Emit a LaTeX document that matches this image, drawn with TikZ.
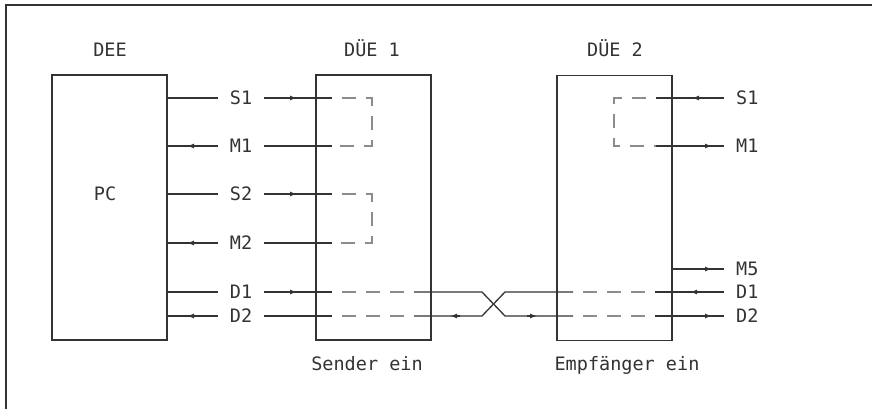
\documentclass[tikz,border=0pt]{standalone}
\usepackage{fontspec}
\newfontfamily\monofnt{DejaVu Sans Mono}
\usetikzlibrary{arrows.meta}
\definecolor{ink}{HTML}{333333}
\definecolor{dashc}{HTML}{8C8C8C}
\begin{document}
\begin{tikzpicture}[x=1pt,y=-1pt,
  wire/.style={draw=ink,line width=1.3pt},
  dwire/.style={draw=dashc,line width=1.3pt,dash pattern=on 14pt off 10pt,dash phase=14pt},
  box/.style={draw=ink,line width=1.4pt,minimum width=115pt,minimum height=265pt,inner sep=0pt},
  lbl/.style={font=\monofnt\fontsize{18.5}{20}\selectfont,text=ink,inner xsep=12pt,inner ysep=2pt},
  tip/.style={draw=ink,line width=1.3pt,-{Latex[length=7pt,width=5pt]}}]
\useasboundingbox (0,0) rectangle (872,409);
% frame
\coordinate (fA) at (6,409);
\coordinate (fB) at (6,5);
\coordinate (fC) at (872,5);
\draw[ink,line width=1.8pt] (fA) -- (fB) -- (fC);
% boxes
\node[box] (pc) at (109.5,207.5) {};
\node[box] (due1) at (373.5,207.5) {};
\node[box] (due2) at (614.5,208) {};
% titles
\node[lbl,anchor=base] (tDEE) at (110,57) {DEE};
\node[lbl,anchor=base] (tDUE1) at (372,57) {DÜE 1};
\node[lbl,anchor=base] (tDUE2) at (615,57) {DÜE 2};
\node[lbl] (tPC) at (105,194) {PC};
\node[lbl,anchor=base] (tSend) at (367,370) {Sender ein};
\node[lbl,anchor=base] (tEmpf) at (627,370) {Empfänger ein};
% left side rows
\foreach \n/\y in {S1/98,M1/146,S2/194,M2/243,D1/292,D2/316} {
  \node[lbl] (l\n) at (241,\y) {\n};
  \coordinate (i\n) at (332,\y);
  \draw[wire] (pc.east |- l\n) -- (l\n.west);
  \draw[wire] (l\n.east) -- (i\n);
}
\foreach \y in {98,194,292} \draw[tip] (285,\y) -- (297,\y);
\foreach \y in {146,243,316} \draw[tip] (199,\y) -- (187,\y);
% inner dashed DUE1
\coordinate (bA) at (372,98);
\coordinate (bB) at (372,146);
\coordinate (bC) at (372,194);
\coordinate (bD) at (372,243);
\draw[dwire] (iS1) -- (bA) -- (bB) -- (iM1);
\draw[dwire] (iS2) -- (bC) -- (bD) -- (iM2);
\coordinate (o1) at (414,292);
\coordinate (o2) at (414,316);
\draw[dwire] (iD1) -- (o1);
\draw[dwire] (iD2) -- (o2);
% crossing
\coordinate (xa) at (482,292);
\coordinate (xb) at (482,316);
\coordinate (xc) at (505,292);
\coordinate (xd) at (505,316);
\coordinate (j1) at (573,292);
\coordinate (j2) at (573,316);
\draw[wire] (o1) -- (xa) -- (xd) -- (j2);
\draw[wire] (o2) -- (xb) -- (xc) -- (j1);
\draw[tip] (460,316) -- (450,316);
\draw[tip] (527,316) -- (537,316);
% right side
\node[lbl,anchor=west] (rS1) at (724,98) {S1};
\node[lbl,anchor=west] (rM1) at (724,146) {M1};
\node[lbl,anchor=west] (rM5) at (724,269) {M5};
\node[lbl,anchor=west] (rD1) at (724,292) {D1};
\node[lbl,anchor=west] (rD2) at (724,316) {D2};
\coordinate (kS1) at (656,98);
\coordinate (kM1) at (656,146);
\coordinate (k1) at (655,292);
\coordinate (k2) at (655,316);
\coordinate (cA) at (614,98);
\coordinate (cB) at (614,146);
\draw[wire] (kS1) -- (rS1.west);
\draw[wire] (kM1) -- (rM1.west);
\draw[wire] (due2.east |- rM5) -- (rM5.west);
\draw[wire] (k1) -- (rD1.west);
\draw[wire] (k2) -- (rD2.west);
\draw[dwire] (j1) -- (k1);
\draw[dwire] (j2) -- (k2);
\draw[dwire] (kS1) -- (cA) -- (cB) -- (kM1);
\draw[tip] (702,98) -- (692,98);
\draw[tip] (702,146) -- (712,146);
\draw[tip] (702,269) -- (712,269);
\draw[tip] (700,292) -- (690,292);
\draw[tip] (702,316) -- (712,316);
\end{tikzpicture}
\end{document}
